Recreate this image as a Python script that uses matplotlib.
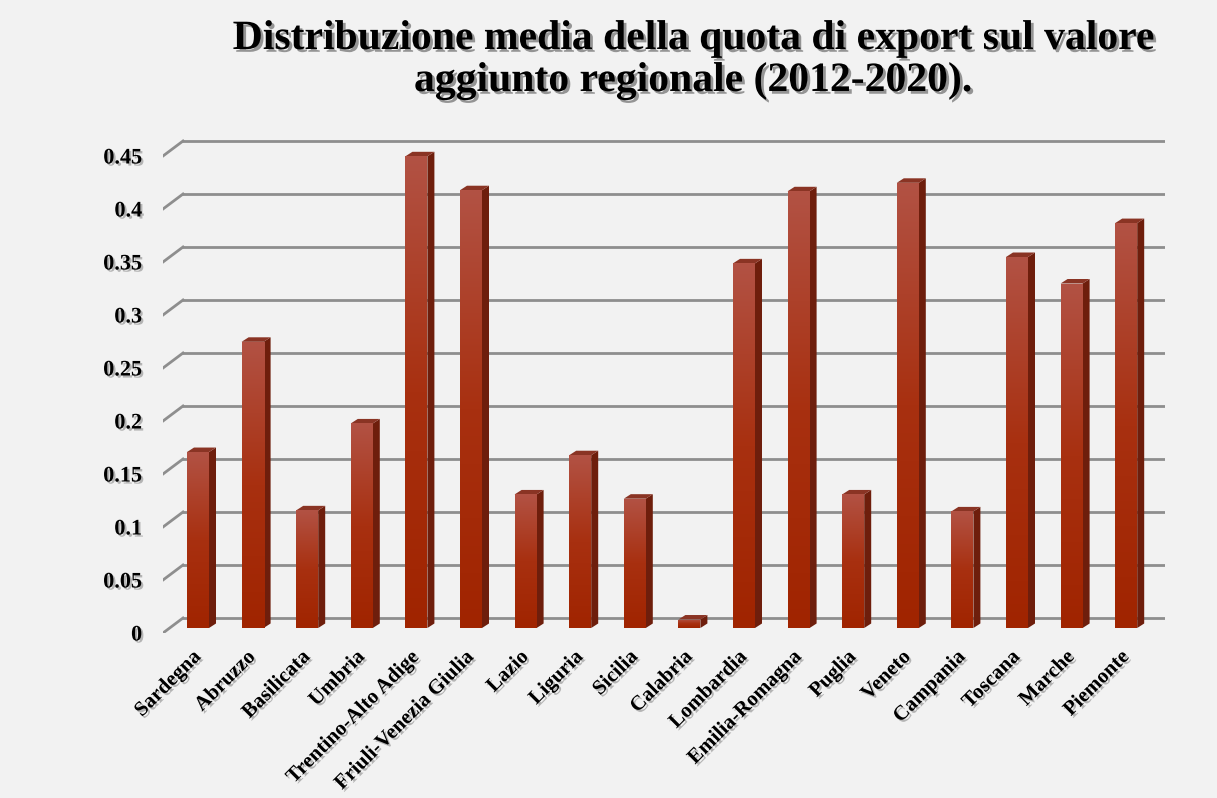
import numpy as np
import matplotlib
matplotlib.use("Agg")
import matplotlib.pyplot as plt
import matplotlib.patheffects as pe
import matplotlib.transforms as mtransforms
from matplotlib.patches import Polygon
from matplotlib.colors import LinearSegmentedColormap

# Regioni e quota media di export sul valore aggiunto (2012-2020)
regioni = ["Sardegna", "Abruzzo", "Basilicata", "Umbria", "Trentino-Alto Adige",
           "Friuli-Venezia Giulia", "Lazio", "Liguria", "Sicilia", "Calabria",
           "Lombardia", "Emilia-Romagna", "Puglia", "Veneto", "Campania",
           "Toscana", "Marche", "Piemonte"]
quota = [0.166, 0.270, 0.111, 0.193, 0.445, 0.413, 0.126, 0.163, 0.122, 0.008,
         0.344, 0.412, 0.126, 0.420, 0.110, 0.350, 0.325, 0.382]
y_ticks = [0, 0.05, 0.1, 0.15, 0.2, 0.25, 0.3, 0.35, 0.4, 0.45]

titolo = "Distribuzione media della quota di export sul valore\naggiunto regionale (2012-2020)."

plt.rcParams['font.family'] = ['Liberation Serif', 'DejaVu Serif']
plt.rcParams['font.weight'] = 'bold'

W, H = 1217, 798
fig = plt.figure(figsize=(W / 100, H / 100), dpi=100)
fig.patch.set_facecolor('#f2f2f2')

# area del grafico in pixel (sinistra, destra, alto, basso)
left_px, right_px, top_px, bot_px = 163, 1165, 130, 633
ax = fig.add_axes([left_px / W, 1 - bot_px / H, (right_px - left_px) / W, (bot_px - top_px) / H])
ax.set_facecolor('none')

px_x = 54.6      # pixel per categoria
px_y = 1060.0    # pixel per unità
x0_px = 198      # centro prima barra
base_px = 628    # base delle barre

ax.set_xlim((left_px - x0_px) / px_x, (right_px - x0_px) / px_x)
ax.set_ylim(-(bot_px - base_px) / px_y, (bot_px - top_px - (bot_px - base_px)) / px_y)

# profondità del "pavimento" 3D e delle barre, in unità dati
front_dy = -5 / px_y
back_dx, back_dy = 20 / px_x, 10 / px_y
bar_dx, bar_dy = 7 / px_x, 4.5 / px_y

x_left = ax.get_xlim()[0]
x_right = ax.get_xlim()[1]
grid_col = '#8e8e8e'
for v in y_ticks:
    ax.plot([x_left, x_left + back_dx], [v + front_dy, v + back_dy], color=grid_col, lw=2, zorder=1)
    ax.plot([x_left + back_dx, x_right], [v + back_dy, v + back_dy], color=grid_col, lw=2, zorder=1)

x = np.arange(len(regioni))
w = 22 / px_x
bars = ax.bar(x, quota, width=w, color='#a82a08', zorder=3)

# sfumatura sulla faccia frontale
grad = np.linspace(0, 1, 256).reshape(-1, 1)
cmap = LinearSegmentedColormap.from_list('rosso', ['#a02400', '#a83010', '#b25244'])
for b in bars:
    bx, by = b.get_x(), b.get_y()
    bw, bh = b.get_width(), b.get_height()
    im = ax.imshow(grad, extent=[bx, bx + bw, by, by + bh], origin='lower',
                   cmap=cmap, aspect='auto', zorder=3.5)
    im.set_clip_path(b)
    # lato destro
    side = Polygon([[bx + bw, by], [bx + bw + bar_dx, by + bar_dy],
                    [bx + bw + bar_dx, by + bh + bar_dy], [bx + bw, by + bh]],
                   closed=True, facecolor='#6e1e0c', edgecolor='none', zorder=3)
    ax.add_patch(side)
    # faccia superiore
    topf = Polygon([[bx, by + bh], [bx + bar_dx, by + bh + bar_dy],
                    [bx + bw + bar_dx, by + bh + bar_dy], [bx + bw, by + bh]],
                   closed=True, facecolor='#8a3424', edgecolor='none', zorder=3)
    ax.add_patch(topf)

ax.set_xlim(x_left, x_right)

ax.set_yticks([v + front_dy for v in y_ticks], [f"{v:g}" for v in y_ticks])
ax.set_xticks(x, regioni, rotation=45, ha='right', rotation_mode='anchor')
ax.tick_params(axis='y', length=0, pad=15, labelsize=16)
ax.tick_params(axis='x', length=0, pad=10, labelsize=15)
for s in ax.spines.values():
    s.set_visible(False)

ombra = [pe.withSimplePatchShadow(offset=(1.5, -1.5), shadow_rgbFace='#777777', alpha=0.5)]
sposta = mtransforms.ScaledTranslation(-7 / 100, 0, fig.dpi_scale_trans)
for lab in ax.get_xticklabels():
    lab.set_transform(lab.get_transform() + sposta)
for lab in ax.get_xticklabels() + ax.get_yticklabels():
    lab.set_fontweight('bold')
    lab.set_path_effects(ombra)

fig.text(693 / W, 1 - 60 / H, titolo, ha='center', va='center', fontsize=30,
         fontweight='bold', linespacing=1.12,
         path_effects=[pe.withSimplePatchShadow(offset=(2, -2), shadow_rgbFace='#555555', alpha=0.6)])

fig.savefig('out.png', dpi=100, facecolor=fig.get_facecolor())
